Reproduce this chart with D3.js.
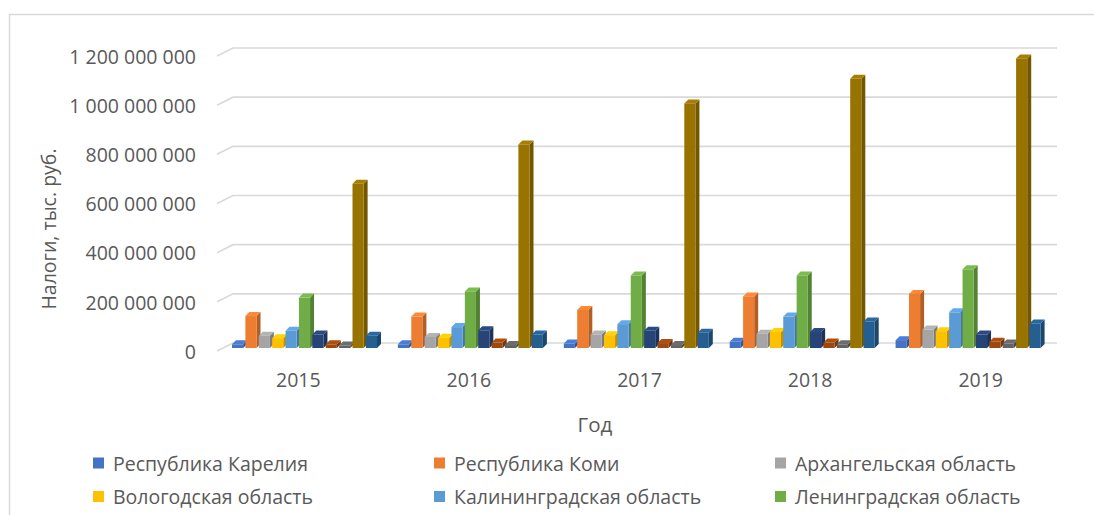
<!DOCTYPE html>
<html>
<head>
<meta charset="utf-8">
<script src="https://cdn.jsdelivr.net/npm/d3@7"></script>
<style>
  html, body { margin: 0; padding: 0; background: #ffffff; }
  svg { display: block; }
  text { font-family: "Open Sans", "Liberation Sans", sans-serif; fill: #595959; }
</style>
</head>
<body>
<svg id="chart" width="1094" height="515"></svg>
<script>
// ---- data ----
const years = ["2015", "2016", "2017", "2018", "2019"];
const seriesNames = [
  "Республика Карелия", "Республика Коми", "Архангельская область",
  "Вологодская область", "Калининградская область", "Ленинградская область",
  "Мурманская область", "Новгородская область", "Псковская область",
  "г. Санкт-Петербург", "Ненецкий автономный округ"
];
const seriesColors = [
  "#4472C4", "#ED7D31", "#A5A5A5", "#FFC000", "#5B9BD5", "#70AD47",
  "#264478", "#9E480E", "#636363", "#997300", "#255E91"
];
// values, thousand roubles (one array per series, by year)
const karelia     = [15e6, 15e6, 18e6, 25e6, 32e6];
const komi        = [130e6, 128e6, 155e6, 210e6, 220e6];
const arkhangelsk = [50e6, 45e6, 55e6, 58e6, 75e6];
const vologda     = [40e6, 42e6, 52e6, 65e6, 68e6];
const kaliningrad = [70e6, 85e6, 97e6, 128e6, 145e6];
const leningrad   = [205e6, 230e6, 295e6, 295e6, 320e6];
const murmansk    = [55e6, 72e6, 70e6, 65e6, 55e6];
const novgorod    = [15e6, 22e6, 20e6, 22e6, 25e6];
const pskov       = [10e6, 12e6, 12e6, 15e6, 18e6];
const spb         = [668e6, 828e6, 995e6, 1095e6, 1178e6];
const nenets      = [50e6, 55e6, 62e6, 108e6, 100e6];
const seriesValues = [karelia, komi, arkhangelsk, vologda, kaliningrad, leningrad,
                      murmansk, novgorod, pskov, spb, nenets];
const yTicks = [0, 200e6, 400e6, 600e6, 800e6, 1000e6, 1200e6];
const yTitle = "Налоги, тыс. руб.";
const xTitle = "Год";

// ---- drawing ----
const svg = d3.select("#chart");
const W = 1094, H = 515;
const FS = 19.5;

// chart border (left and top visible)
svg.append("path")
  .attr("d", `M9.5,${H} L9.5,14.5 L${W},14.5`)
  .attr("fill", "none").attr("stroke", "#d9d9d9").attr("stroke-width", 1.5);

const y = d3.scaleLinear().domain([0, 1200e6]).range([343, 48]);
const xLab = d3.scaleBand().domain(years).range([213, 1066]);
const xBar = d3.scaleBand().domain(years).range([222.5, 1052]);
const xSer = d3.scaleBand().domain(d3.range(seriesNames.length)).range([9.5, 154.5]).paddingInner(0.17).paddingOuter(0);

// gridlines on back wall + floor edge
const grid = svg.append("g");
yTicks.forEach(t => {
  grid.append("path")
    .attr("d", `M217,${y(t) + 8} L233,${y(t)} L1057,${y(t)}`)
    .attr("fill", "none").attr("stroke", "#d9d9d9").attr("stroke-width", 1.6);
});

// y axis labels
const yAxis = d3.axisLeft(y).tickValues(yTicks).tickSize(0).tickPadding(9)
  .tickFormat(d => d3.format(",")(d).replace(/,/g, " "));
const gy = svg.append("g").attr("transform", "translate(205,9)").call(yAxis);
gy.select(".domain").remove();
gy.selectAll("text").attr("font-size", FS).attr("font-family", null).attr("fill", "#595959");

// bars (pseudo 3D)
const depth = 4, drop = 5, bw = xSer.bandwidth();
const barsG = svg.append("g");
years.forEach((yr, yi) => {
  seriesValues.forEach((vals, si) => {
    const v = vals[yi];
    const x0 = xBar(yr) + xSer(si);
    const yTop = y(v) + drop, yBot = y(0) + drop;
    const base = d3.color(seriesColors[si]);
    const g = barsG.append("g");
    g.append("path")
      .attr("d", `M${x0 + bw},${yTop} L${x0 + bw + depth},${yTop - depth} L${x0 + bw + depth},${yBot - depth} L${x0 + bw},${yBot} Z`)
      .attr("fill", base.darker(0.8));
    g.append("path")
      .attr("d", `M${x0},${yTop} L${x0 + depth},${yTop - depth} L${x0 + bw + depth},${yTop - depth} L${x0 + bw},${yTop} Z`)
      .attr("fill", base.brighter(0.25));
    g.append("rect")
      .attr("x", x0).attr("y", yTop).attr("width", bw).attr("height", yBot - yTop)
      .attr("fill", base);
  });
});

// x axis labels
const xAxis = d3.axisBottom(xLab).tickSize(0).tickPadding(9);
const gx = svg.append("g").attr("transform", "translate(0,364)").call(xAxis);
gx.select(".domain").remove();
gx.selectAll("text").attr("font-size", FS).attr("font-family", null).attr("fill", "#595959");

// axis titles
svg.append("text")
  .attr("transform", "translate(48,229) rotate(-90)")
  .attr("text-anchor", "middle").attr("dominant-baseline", "central")
  .attr("font-size", FS).text(yTitle);
svg.append("text")
  .attr("x", 595).attr("y", 424)
  .attr("text-anchor", "middle").attr("dominant-baseline", "central")
  .attr("font-size", FS + 1).text(xTitle);

// legend (3 columns; only the rows visible in the source picture are shown)
const legX = [93, 434, 775];
const legY0 = 463, legDY = 33.5;
const leg = svg.append("g");
seriesNames.forEach((name, i) => {
  const cx = legX[i % 3], cy = legY0 + Math.floor(i / 3) * legDY;
  if (cy + 12 > H) return;
  leg.append("rect").attr("x", cx).attr("y", cy - 5.5).attr("width", 11).attr("height", 11)
    .attr("fill", seriesColors[i]);
  leg.append("text").attr("x", cx + 20).attr("y", cy)
    .attr("dominant-baseline", "central").attr("font-size", FS).text(name);
});
</script>
</body>
</html>
